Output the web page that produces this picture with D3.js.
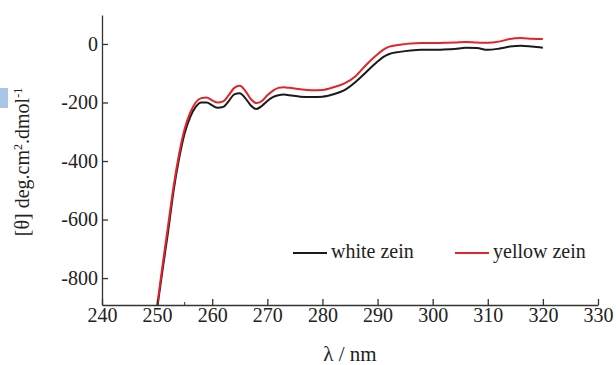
<!DOCTYPE html>
<html>
<head>
<meta charset="utf-8">
<script src="https://cdn.jsdelivr.net/npm/d3@7"></script>
<style>
  body { margin: 0; background: #fff; }
  svg text { font-family: "Liberation Serif", "DejaVu Serif", serif; fill: #222; }
</style>
</head>
<body>
<div id="chart"></div>
<script>
// wavelength (nm)
const wavelength = [250, 251, 252, 253, 254, 255, 256, 257, 258, 259, 260, 261, 262, 263, 264, 265, 266, 267, 268, 269,
  270, 271, 272, 273, 274, 276, 278, 280, 282, 284, 286, 288, 290, 291, 292, 294, 296, 298, 300, 302,
  304, 306, 308, 310, 312, 314, 316, 318, 320]
const whiteZein = [-905, -770, -640, -500, -390, -305, -250, -215, -200, -200, -210, -218, -215, -195, -172, -168, -185, -210, -222, -212,
  -195, -182, -175, -173, -175, -180, -181, -180, -172, -158, -130, -95, -60, -45, -35, -27, -22, -20, -20, -19,
  -17, -13, -14, -20, -16, -9, -6, -9, -13]
const yellowZein = [-895, -755, -620, -485, -375, -290, -235, -200, -185, -183, -193, -200, -196, -175, -150, -143, -160, -188, -202, -195,
  -175, -160, -150, -148, -150, -155, -158, -157, -148, -135, -110, -70, -35, -20, -10, -3, 2, 3, 3, 4,
  5, 7, 5, 4, 8, 17, 20, 18, 17]
const xTicks = [240, 250, 260, 270, 280, 290, 300, 310, 320, 330]
const yTicks = [0, -200, -400, -600, -800]
const seriesNames = ['white zein', 'yellow zein']
const seriesColors = ['#1a1a1a', '#e3242b']

const width = 616
const height = 365
const margin = { top: 15, right: 18, bottom: 60, left: 102 }

const svg = d3.select('#chart')
  .append('svg')
  .attr('width', width)
  .attr('height', height)

// small blue tab at the left edge of the page
svg.append('rect')
  .attr('x', 0).attr('y', 88)
  .attr('width', 8).attr('height', 20)
  .attr('fill', '#a9c5e6')

const x = d3.scaleLinear().domain([240, 330]).range([margin.left, width - margin.right])
const y = d3.scaleLinear().domain([-892, 99]).range([height - margin.bottom, margin.top])

svg.append('clipPath').attr('id', 'plot-clip')
  .append('rect')
  .attr('x', margin.left).attr('y', margin.top)
  .attr('width', width - margin.left - margin.right)
  .attr('height', height - margin.top - margin.bottom)

const line = d3.line()
  .x((d, i) => x(wavelength[i]))
  .y(d => y(d))
  .curve(d3.curveMonotoneX)

const plot = svg.append('g').attr('clip-path', 'url(#plot-clip)')
;[whiteZein, yellowZein].forEach((vals, k) => {
  plot.append('path')
    .datum(vals)
    .attr('fill', 'none')
    .attr('stroke', seriesColors[k])
    .attr('stroke-width', 2)
    .attr('stroke-linejoin', 'round')
    .attr('d', line)
})

const xAxis = d3.axisBottom(x).tickValues(xTicks).tickSizeInner(-6).tickSizeOuter(0).tickPadding(3)
const xg = svg.append('g')
  .attr('transform', `translate(0, ${height - margin.bottom})`)
  .call(xAxis)
// the one short minor tick visible at 255
xg.append('line')
  .attr('x1', x(255)).attr('x2', x(255))
  .attr('y1', 0).attr('y2', -3)
  .attr('stroke', '#333')

const yAxis = d3.axisLeft(y).tickValues(yTicks).tickSizeInner(-6).tickSizeOuter(0).tickPadding(4)
  .tickFormat(d => d === 0 ? '0' : '-' + Math.abs(d))
svg.append('g')
  .attr('transform', `translate(${margin.left}, 0)`)
  .call(yAxis)

svg.selectAll('.domain').attr('stroke', '#333').attr('stroke-width', 1.3)
svg.selectAll('.tick line').attr('stroke', '#333').attr('stroke-width', 1.3)
svg.selectAll('.tick text').attr('font-size', 20).attr('fill', '#222')
  .attr('font-family', '"Liberation Serif", serif')

svg.append('text')
  .attr('x', x(285)).attr('y', 361)
  .attr('text-anchor', 'middle')
  .attr('font-size', 21)
  .text('λ / nm')

svg.append('text')
  .attr('transform', 'translate(29, 162) rotate(-90)')
  .attr('text-anchor', 'middle')
  .attr('font-size', 20)
  .html('[θ] deg.cm<tspan dy="-7" font-size="12">2</tspan><tspan dy="7">.dmol</tspan><tspan dy="-7" font-size="12">-1</tspan>')

// legend
const legendX = [293, 455]
seriesNames.forEach((name, k) => {
  svg.append('line')
    .attr('x1', legendX[k]).attr('x2', legendX[k] + 34)
    .attr('y1', 253).attr('y2', 253)
    .attr('stroke', seriesColors[k])
    .attr('stroke-width', 2)
  svg.append('text')
    .attr('x', legendX[k] + 38).attr('y', 258)
    .attr('font-size', 20)
    .text(name)
})
</script>
</body>
</html>
